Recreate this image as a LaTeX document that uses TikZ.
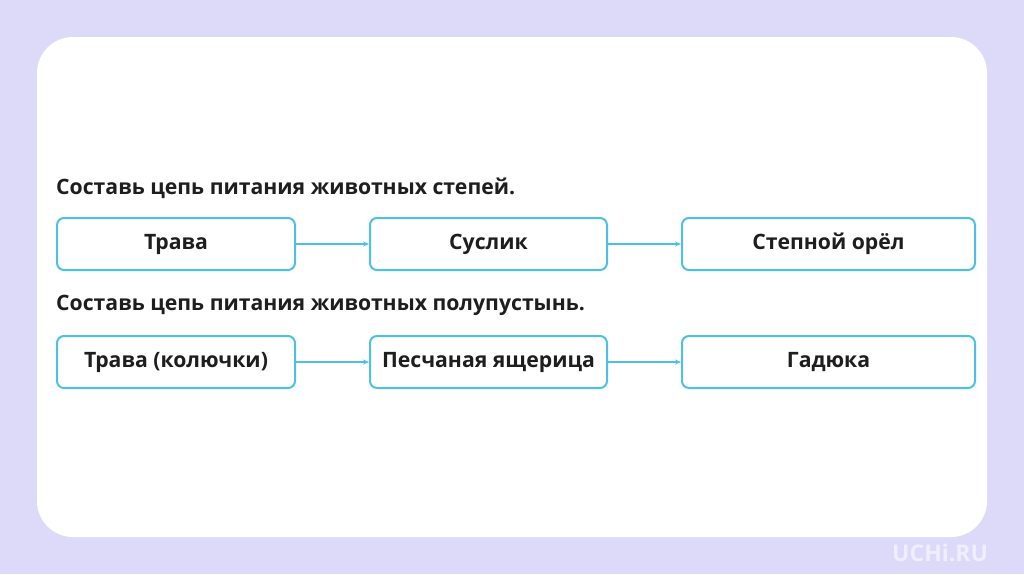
\documentclass[tikz,border=0pt]{standalone}
\usepackage{fontspec}
\setmainfont{Open Sans}
\usetikzlibrary{arrows.meta}
\definecolor{bgl}{HTML}{DCDAF8}
\definecolor{bord}{HTML}{4CC0E6}
\definecolor{wm}{HTML}{F0EEFC}
\definecolor{txt}{HTML}{1E1E1E}
\tikzset{
  chainbox/.style={draw=bord, line width=2pt, rounded corners=7pt, fill=white,
    minimum height=52pt, inner sep=0pt, anchor=north west, font=\fontsize{21.2}{24}\selectfont\bfseries, text=txt},
  link/.style={draw=bord, line width=1.4pt, -{Stealth[length=6pt,width=5pt]}},
  heading/.style={anchor=base west, inner sep=0pt, font=\fontsize{21.2}{24}\selectfont\bfseries, text=txt}
}
\begin{document}
\begin{tikzpicture}[x=1pt,y=-1pt]
\useasboundingbox (0,0) rectangle (1024,574);
\fill[bgl] (0,0) rectangle (1024,574);
\fill[white, rounded corners=36pt] (37,37) rectangle (987,537);
\node[heading] (h1) at (56,194) {Составь цепь питания животных степей.};
\node[chainbox, minimum width=238pt] (a1) at (56,217) {Трава};
\node[chainbox, minimum width=237pt] (a2) at (369,217) {Суслик};
\node[chainbox, minimum width=293pt] (a3) at (681,217) {Степной орёл};
\draw[link] (a1) -- (a2);
\draw[link] (a2) -- (a3);
\node[heading] (h2) at (56,310) {Составь цепь питания животных полупустынь.};
\node[chainbox, minimum width=238pt] (b1) at (56,335) {Трава (колючки)};
\node[chainbox, minimum width=237pt] (b2) at (369,335) {Песчаная ящерица};
\node[chainbox, minimum width=293pt] (b3) at (681,335) {Гадюка};
\draw[link] (b1) -- (b2);
\draw[link] (b2) -- (b3);
\node[anchor=base west, inner sep=0pt, text=wm, font=\fontsize{23}{26}\selectfont\bfseries] (wmk) at (892,561) {UCHi.RU};
\end{tikzpicture}
\end{document}
